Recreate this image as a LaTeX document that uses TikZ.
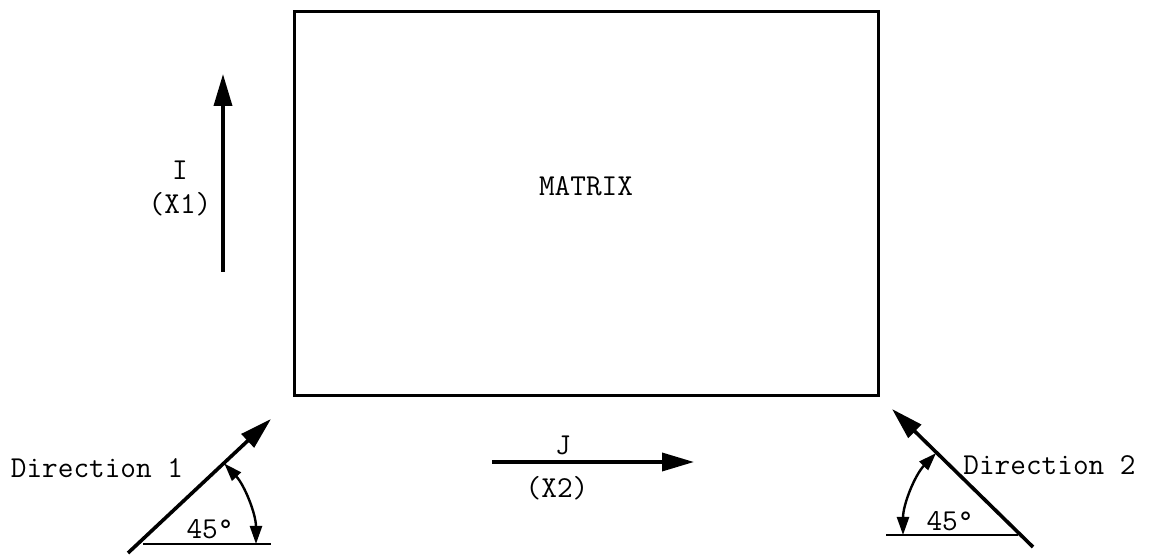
\documentclass[tikz,border=0pt]{standalone}
\usepackage{fontspec}
\usetikzlibrary{arrows.meta}

\begin{document}
\begin{tikzpicture}[
  x=0.5pt, y=0.5pt,
  lbl/.style={font=\ttfamily\fontsize{15.2}{17}\selectfont, inner sep=0pt, align=center},
  arr/.style={-{Triangle[length=16pt,width=9pt]}, line width=1.8pt},
  ang/.style={{Triangle[length=9pt,width=6pt]}-{Triangle[length=9pt,width=6pt]}, line width=1.2pt},
  base/.style={line width=1.1pt}]
\useasboundingbox (0,0) rectangle (1151,556);
\node[draw, line width=1.5pt, minimum width=292pt, minimum height=192pt, inner sep=0pt] (mat) at (586,352) {};
\node[lbl] (matlbl) at (586,370) {MATRIX};
% axis arrows
\coordinate (ibot) at (223,284);
\coordinate (itop) at (223,482);
\draw[arr] (ibot) -- (itop);
\node[lbl] (ilbl) at (180,368) {I\\(X1)};
\coordinate (jleft) at (492,94);
\coordinate (jright) at (694,94);
\draw[arr] (jleft) -- (jright);
\node[lbl] (jlbl) at (563,111) {J};
\node[lbl] (xlbl) at (557,68) {(X2)};
% direction 1
\coordinate (d1s) at (128,3);
\coordinate (d1e) at (271,137);
\coordinate (d1b) at (143,12);
\coordinate (d1c) at (271,12);
\coordinate (d1a) at (256,12);
\draw[arr] (d1s) -- (d1e);
\draw[base] (d1b) -- (d1c);
\draw[ang] (d1a) arc[start angle=0, end angle=43, radius=118];
\node[lbl] (d1lbl) at (97,88) {Direction 1};
\node[lbl] (d1deg) at (210,27) {45°};
% direction 2
\coordinate (d2s) at (1033,9);
\coordinate (d2e) at (892,147);
\coordinate (d2b) at (886,21);
\coordinate (d2c) at (1018,21);
\coordinate (d2a) at (903,21);
\draw[arr] (d2s) -- (d2e);
\draw[base] (d2b) -- (d2c);
\draw[ang] (d2a) arc[start angle=180, end angle=136, radius=118];
\node[lbl, anchor=west] (d2lbl) at (963,91) {Direction 2};
\node[lbl] (d2deg) at (950,35) {45°};
\end{tikzpicture}
\end{document}
